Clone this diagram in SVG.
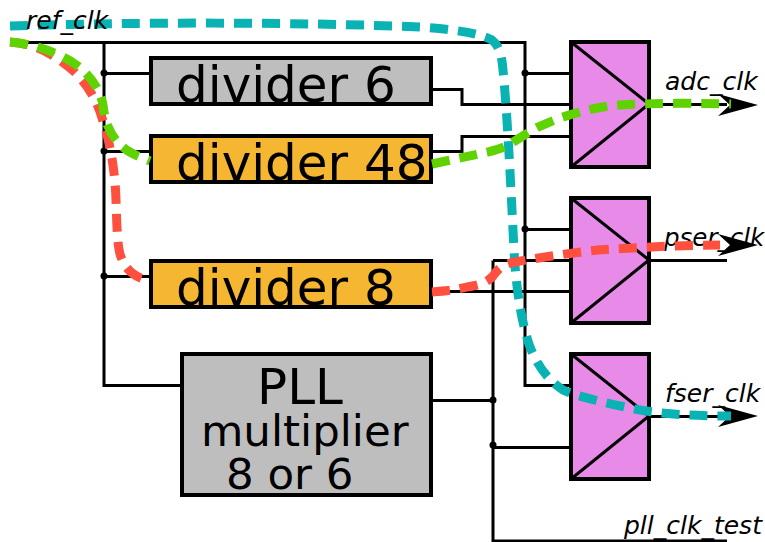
<svg xmlns="http://www.w3.org/2000/svg" width="765" height="542" viewBox="0 0 765 542">
<style>
.b{stroke:#000;stroke-width:4}
.g{fill:#bebebe}
.o{fill:#f5b731}
.m{fill:#e78ae8}
.w{fill:none;stroke:#000;stroke-width:3}
.t{font-family:"DejaVu Sans",sans-serif;fill:#000}
.big{font-size:50px}
.l{font-size:25px;font-style:italic}
.d{fill:none;stroke-width:9;stroke-dasharray:18 10}
</style>
<defs>
<path id="arrow" d="M718 -11L758 0L718 11L730 0Z" fill="#000"/>
</defs>
<g id="connectors">
<path class="w" d="M12 42.500H525V385.500H571M104 42.500V385.500H182M104 73.500H151M104 151.500H151M104 276.500H151"/>
<path class="w" d="M431 89.500H462V104.500H571M431 151.500H462V136.500H571M525 73.500H571M525 229.500H571M431 291.500H571M493 260.500H571M493 260.500V541H727M431 400.500H493M493 447.500H571"/>
<path class="w" d="M649 104.500H727M649 260.500H727M649 416.500H727"/>
<circle cx="104" cy="73" r="3.500"/><circle cx="104" cy="151" r="3.500"/><circle cx="104" cy="276" r="3.500"/>
<circle cx="525" cy="73" r="3.500"/><circle cx="525" cy="229" r="3.500"/>
<circle cx="493" cy="400" r="3.500"/><circle cx="493" cy="445" r="3.500"/>
</g>
<g id="divider6"><rect class="b g" x="151" y="58" width="280" height="46"/><text class="t big" x="176" y="102">divider 6</text></g>
<g id="divider48"><rect class="b o" x="151" y="136" width="280" height="46"/><text class="t big" x="176" y="180">divider 48</text></g>
<g id="divider8"><rect class="b o" x="151" y="261" width="280" height="46"/><text class="t big" x="176" y="305">divider 8</text></g>
<g id="pll"><rect class="b g" x="182" y="354" width="249" height="141"/>
<text class="t big" x="257" y="404">PLL</text><text class="t" font-size="43.500" x="201" y="446">multiplier</text><text class="t" font-size="43.500" x="226" y="489">8 or 6</text></g>
<g id="mux1"><rect class="b m" x="571" y="42" width="78" height="125"/><path class="w" d="M571 42L649 104L571 167"/></g>
<g id="mux2"><rect class="b m" x="571" y="198" width="78" height="125"/><path class="w" d="M571 198L649 260L571 323"/></g>
<g id="mux3"><rect class="b m" x="571" y="354" width="78" height="125"/><path class="w" d="M571 354L649 416L571 479"/></g>
<g id="labels">
<text class="t l" x="665" y="90">adc_clk</text>
<text class="t l" x="664" y="246" font-size="24.500" style="font-size:24.500px">pser_clk</text>
<text class="t l" x="665" y="402">fser_clk</text>
<text class="t l" x="624" y="534">pll_clk_test</text>
</g>
<g id="arrows">
<use href="#arrow" y="105"/><use href="#arrow" y="245"/><use href="#arrow" y="416"/>
</g>
<g id="highlights">
<path class="d" stroke="#0ab3b3" d="M10 26C130 22 300 22 420 27C450 29 480 33 492 40C500 46 502 58 503 70C507 110 510 170 514 250C516 290 522 325 530 347C536 362 545 378 563 390C575 396 610 404 640 410C670 415 700 416 731 416"/>
<path class="d" stroke="#ff4f3f" d="M10 42C35 44 50 52 70 68C85 80 97 100 102 118C108 135 115 165 116 200C117 235 118 250 121 257C125 268 132 275 143 279M432 292C445 291 455 290 467 287C480 285 488 282 493 276C500 266 505 264 515 262C530 259 570 253 598 250C630 248 680 245 720 245"/>
<path class="d" stroke="#5fd300" d="M10 42C35 44 55 52 72 62C88 72 100 88 103 105C105 125 112 140 128 151C135 155 142 158 150 161M432 164L488 152C500 149 508 146 513 142C522 137 530 131 538 127C550 122 557 119 563 117C580 112 600 106 620 105C650 103 700 103 731 104"/>
</g>
<text class="t l" x="26" y="29">ref_clk</text>
</svg>
